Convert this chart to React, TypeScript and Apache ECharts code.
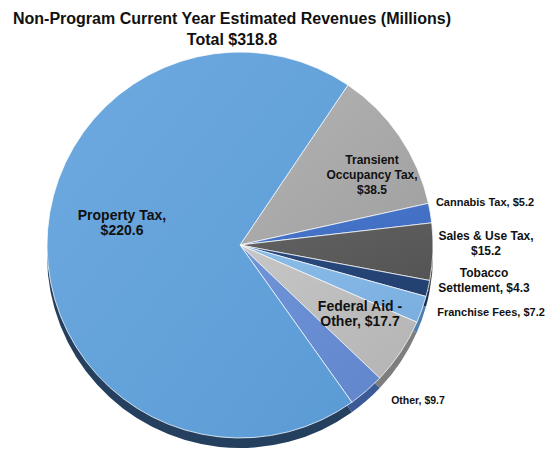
import React, { useEffect, useRef } from "react";
import * as echarts from "echarts";

const titleLines = ["Non-Program Current Year Estimated Revenues (Millions)", "Total $318.8"];
const categories = [
  "Transient Occupancy Tax",
  "Cannabis Tax",
  "Sales & Use Tax",
  "Tobacco Settlement",
  "Franchise Fees",
  "Federal Aid - Other",
  "Other",
  "Property Tax",
];
const values = [38.5, 5.2, 15.2, 4.3, 7.2, 17.7, 9.7, 220.6];
const labelTemplates = [
  "Transient\nOccupancy Tax,\n{v}",
  "Cannabis Tax, {v}",
  "Sales & Use Tax,\n{v}",
  "Tobacco\nSettlement, {v}",
  "Franchise Fees, {v}",
  "Federal Aid -\nOther, {v}",
  "Other, {v}",
  "Property Tax,\n{v}",
];

// styling (kept apart from the data)
const topColors = ["#b3b3b3", "#4a78cc", "#626262", "#2a4a80", "#8cbde8", "#c6c6c6", "#7094d8", "#6eaae0"];
const baseColors = ["#a0a0a0", "#3f6cc0", "#545454", "#22406f", "#79aee0", "#b4b4b4", "#6186cc", "#5b9bd5"];
const rimColors = ["#707070", "#2c4d8a", "#3a3a3a", "#172d50", "#4f7fae", "#7e7e7e", "#3c5a96", "#253f5e"];
const labelSizes = [12, 11, 12, 12, 11, 14, 10.5, 14];
const labelCenters: [number, number][] = [
  [372, 175],
  [485, 202],
  [486, 243],
  [484, 280],
  [491, 312],
  [360, 313],
  [418, 400],
  [122, 222],
];

const FONT = "'Liberation Sans', Arial, sans-serif";

export default function App() {
  const ref = useRef<HTMLDivElement>(null);
  useEffect(() => {
    document.body.style.margin = "0";
    const chart = echarts.init(ref.current!, undefined, { renderer: "svg" });
    const fmt = (v: number) => "$" + v.toFixed(1);
    const topData = categories.map((name, i) => ({
      name,
      value: values[i],
      itemStyle: {
        color: new echarts.graphic.LinearGradient(0, 0, 1, 1, [
          { offset: 0, color: topColors[i] },
          { offset: 1, color: baseColors[i] },
        ]),
      },
      label: { fontSize: labelSizes[i] },
    }));
    const rimData = categories.map((name, i) => ({
      name,
      value: values[i],
      itemStyle: { color: rimColors[i] },
    }));
    chart.setOption({
      animation: false,
      title: {
        text: titleLines.join("\n"),
        left: 227,
        top: 3,
        textAlign: "center",
        textStyle: {
          fontSize: 16,
          fontWeight: "bold",
          lineHeight: 21,
          fontFamily: FONT,
          color: "#111111",
        },
      },
      series: [
        {
          type: "pie",
          z: 1,
          silent: true,
          center: [240, 255],
          radius: 193,
          startAngle: 56,
          clockwise: true,
          label: { show: false },
          labelLine: { show: false },
          itemStyle: { borderWidth: 0 },
          data: rimData,
        },
        {
          type: "pie",
          z: 2,
          center: [240, 245],
          radius: 193,
          startAngle: 56,
          clockwise: true,
          itemStyle: { borderColor: "rgba(255,255,255,0.75)", borderWidth: 1 },
          label: {
            show: true,
            position: "inside",
            fontFamily: FONT,
            fontWeight: "bold",
            color: "#111111",
            align: "center",
            lineHeight: 15,
            formatter: (p: any) => labelTemplates[p.dataIndex].replace("{v}", fmt(p.value)),
          },
          labelLine: { show: false },
          labelLayout: (p: any) => {
            const c = labelCenters[p.dataIndex];
            return { x: c[0], y: c[1], align: "center", verticalAlign: "middle" };
          },
          data: topData,
        },
      ],
    });
    return () => chart.dispose();
  }, []);
  return <div ref={ref} style={{ width: 546, height: 450 }} />;
}
